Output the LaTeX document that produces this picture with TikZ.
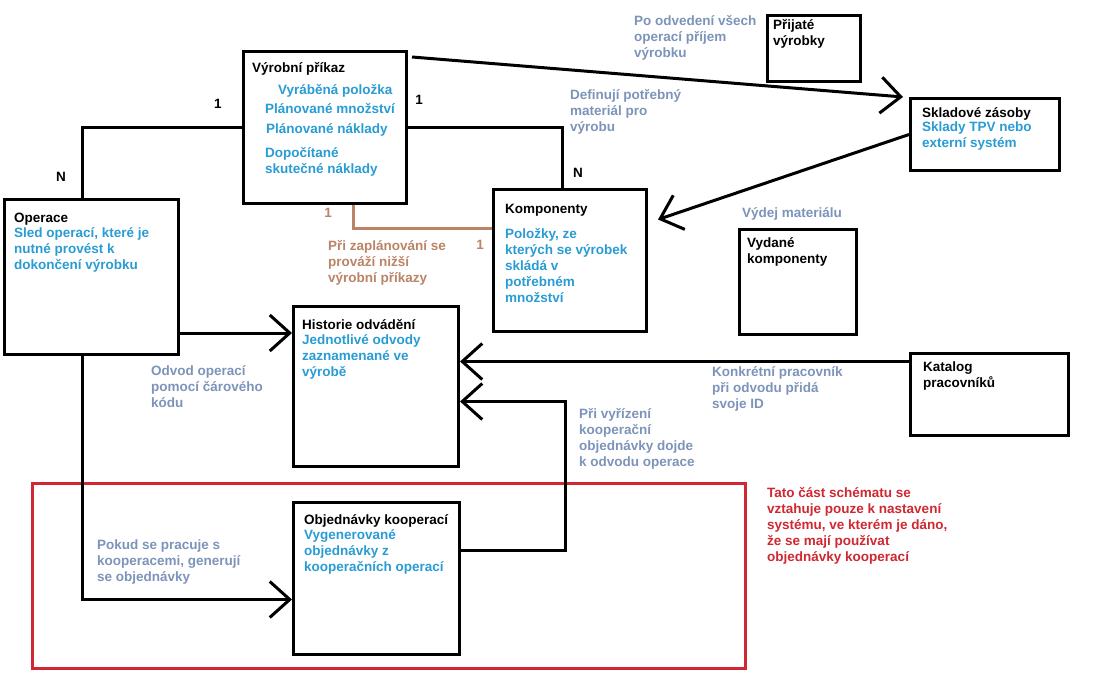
\documentclass[tikz,border=0pt]{standalone}
\usepackage{fontspec}
\setmainfont{Liberation Sans}
\usetikzlibrary{arrows.meta}
\definecolor{tblue}{RGB}{41,156,212}
\definecolor{tgray}{RGB}{125,148,186}
\definecolor{tbrown}{RGB}{188,132,102}
\definecolor{tred}{RGB}{208,40,50}
\tikzset{
  box/.style={draw=black, line width=3pt, inner sep=0pt, anchor=north west},
  conn/.style={draw=black, line width=3pt},
  arr/.style={conn, -{Straight Barb[length=20pt,width=36pt,line width=3pt]}},
  txt/.style={anchor=north west, inner sep=0pt, align=left, font=\fontsize{13.5}{16}\selectfont\bfseries, execute at begin node=\strut},
  card/.style={inner sep=0pt, font=\fontsize{13.5}{16}\selectfont\bfseries},
}
\begin{document}
\begin{tikzpicture}[x=1pt,y=-1pt]
\useasboundingbox[fill=white] (0,0) rectangle (1110,684);
% red frame
\draw[tred, line width=3pt] (32,483) rectangle (745,668);
% boxes
\node[box, minimum width=163pt, minimum height=152pt] (vp) at (242,50) {};
\node[box, minimum width=174pt, minimum height=155pt] (oper) at (3,198) {};
\node[box, minimum width=153pt, minimum height=142pt] (komp) at (492,188) {};
\node[box, minimum width=165pt, minimum height=160pt] (hist) at (292,305) {};
\node[box, minimum width=93pt, minimum height=66pt] (prij) at (766,14) {};
\node[box, minimum width=149pt, minimum height=72pt] (skl) at (909,97) {};
\node[box, minimum width=117pt, minimum height=105pt] (vyd) at (738,228) {};
\node[box, minimum width=158pt, minimum height=82pt] (kat) at (909,352) {};
\node[box, minimum width=166pt, minimum height=152pt] (obj) at (292,501) {};
% texts in boxes
\node[txt] (vpT) at (252,61) {Výrobní příkaz};
\node[txt, tblue] (vpA) at (278,83) {Vyráběná položka};
\node[txt, tblue] (vpB) at (265,102) {Plánované množství};
\node[txt, tblue] (vpC) at (266,122) {Plánované náklady};
\node[txt, tblue] (vpD) at (265,147) {Dopočítané\\skutečné náklady};
\node[txt] (opT) at (14,211) {Operace};
\node[txt, tblue] (opD) at (14,227) {Sled operací, které je\\nutné provést k\\dokončení výrobku};
\node[txt] (kT) at (505,202) {Komponenty};
\node[txt, tblue] (kD) at (505,228) {Položky, ze\\kterých se výrobek\\skládá v\\potřebném\\množství};
\node[txt] (hT) at (302,318) {Historie odvádění};
\node[txt, tblue] (hD) at (302,334) {Jednotlivé odvody\\zaznamenané ve\\výrobě};
\node[txt] (pT) at (773,19) {Přijaté\\výrobky};
\node[txt] (sT) at (922,106) {Skladové zásoby};
\node[txt, tblue] (sD) at (922,122) {Sklady TPV nebo\\externí systém};
\node[txt] (vT) at (747,237) {Vydané\\komponenty};
\node[txt] (katT) at (923,362) {Katalog\\pracovníků};
\node[txt] (objT) at (304,513) {Objednávky kooperací};
\node[txt, tblue] (objD) at (304,529) {Vygenerované\\objednávky z\\kooperačních operací};
% labels
\node[txt, tgray] (l1) at (634,15) {Po odvedení všech\\operací příjem\\výrobku};
\node[txt, tgray] (l2) at (570,89) {Definují potřebný\\materiál pro\\výrobu};
\node[txt, tgray] (l3) at (742,206) {Výdej materiálu};
\node[txt, tbrown] (l4) at (328,240) {Při zaplánování se\\prováží nižší\\výrobní příkazy};
\node[txt, tgray] (l5) at (151,365) {Odvod operací\\pomocí čárového\\kódu};
\node[txt, tgray] (l6) at (712,366) {Konkrétní pracovník\\při odvodu přidá\\svoje ID};
\node[txt, tgray] (l7) at (579,408) {Při vyřízení\\kooperační\\objednávky dojde\\k odvodu operace};
\node[txt, tgray] (l8) at (97,540) {Pokud se pracuje s\\kooperacemi, generují\\se objednávky};
\node[txt, tred] (l9) at (767,487) {Tato část schématu se\\vztahuje pouze k nastavení\\systému, ve kterém je dáno,\\že se mají používat\\objednávky kooperací};
% cardinalities
\node[card] (c1) at (218,104) {1};
\node[card] (c2) at (61,177) {N};
\node[card] (c3) at (419,100) {1};
\node[card] (c4) at (578,173) {N};
\node[card, tbrown] (c5) at (328,213) {1};
\node[card, tbrown] (c6) at (480,245) {1};
% coordinates
\coordinate (o1) at ([xshift=79pt]oper.north west);
\coordinate (h1) at ([yshift=-28pt]hist.north west);
\coordinate (h3) at ([yshift=-15pt]hist.east);
\coordinate (k1) at ([yshift=32pt]komp.west);
\coordinate (k2) at ([shift={(10,-41)}]komp.east);
\coordinate (s1) at ([xshift=-6pt]skl.north west);
\coordinate (v1) at ([shift={(4,7)}]vp.north east);
\coordinate (kt1) at ([yshift=33pt]kat.west);
\coordinate (ob1) at ([yshift=28pt]obj.east);
\coordinate (ob2) at ([yshift=-21pt]obj.west);
% connectors
\draw[conn] (o1) |- (vp.west);
\draw[conn] (vp.east) -| ([xshift=-8pt]komp.north);
\draw[tbrown, line width=3pt] ([xshift=28pt]vp.south) |- (k1);
\draw[arr] (v1) -- (s1);
\draw[arr] (skl.west) -- (k2);
\draw[arr] (oper.east |- h1) -- (h1);
\draw[arr] (o1 |- oper.south) |- (ob2);
\draw[arr] (kt1) -- (hist.east |- kt1);
\draw[arr] (ob1) -- ++(104,0) |- (h3);
\end{tikzpicture}
\end{document}
